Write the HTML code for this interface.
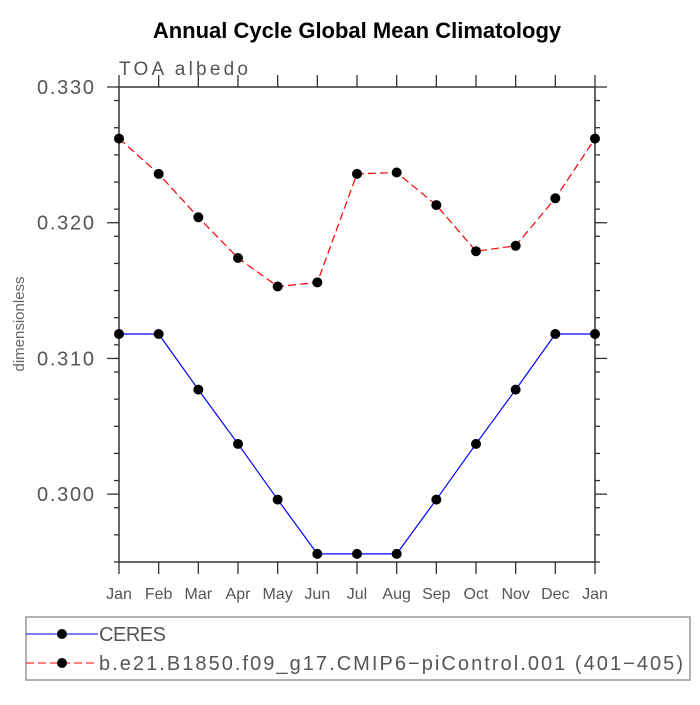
<!DOCTYPE html>
<html><head><meta charset="utf-8"><style>
body{margin:0;background:#fff}
svg text{font-family:"Liberation Sans",sans-serif}
</style></head><body>
<svg id="c" width="700" height="700" xmlns="http://www.w3.org/2000/svg">
<text x="357" y="38" text-anchor="middle" font-size="22" font-weight="bold">Annual Cycle Global Mean Climatology</text>
<text x="119" y="75" font-size="19" fill="#555" textLength="129">TOA albedo</text>
<text transform="translate(24,324) rotate(-90)" text-anchor="middle" font-size="15" fill="#666">dimensionless</text>
<g id="ax"></g><g id="series"></g>
<rect x="26" y="617" width="664" height="63" fill="none" stroke="#999" stroke-width="1.5"/>
<g>
<line x1="26" y1="634" x2="98" y2="634" stroke="#00f" stroke-width="1"/><circle cx="62" cy="634" r="5" fill="#000"/>
<text x="99" y="641" font-size="20" fill="#555" textLength="67">CERES</text></g>
<g>
<line x1="26" y1="663" x2="98" y2="663" stroke="#f00" stroke-dasharray="8,4"/><circle cx="62" cy="663" r="5" fill="#000"/>
<text x="99" y="670" font-size="20" fill="#555" textLength="584">b.e21.B1850.f09_g17.CMIP6−piControl.001 (401−405)</text></g>
</svg>
<script>
const months=["Jan","Feb","Mar","Apr","May","Jun","Jul","Aug","Sep","Oct","Nov","Dec","Jan"];
const ceres=[0.3118,0.3118,0.3077,0.3037,0.2996,0.2956,0.2956,0.2956,0.2996,0.3037,0.3077,0.3118,0.3118];
const model=[0.3262,0.3236,0.3204,0.3174,0.3153,0.3156,0.3236,0.3237,0.3213,0.3179,0.3183,0.3218,0.3262];
const yTicks=["0.300","0.310","0.320","0.330"];
const X0=119,X1=595,Y0=87,Y1=562,ymin=0.295,ymax=0.330;
const sx=i=>X0+(X1-X0)*i/(months.length-1);
const sy=v=>Y1-(v-ymin)/(ymax-ymin)*(Y1-Y0);
const NS="http://www.w3.org/2000/svg";
function mk(t,a,p){const e=document.createElementNS(NS,t);for(const k in a)e.setAttribute(k,a[k]);p.appendChild(e);return e;}
const ax=document.getElementById('ax');
let f=mk('rect',{x:X0,y:Y0,width:X1-X0,height:Y1-Y0,fill:'none',stroke:'#333','stroke-width':1.5},ax);


months.forEach((m,i)=>{const x=sx(i);
mk('line',{x1:x,y1:Y1,x2:x,y2:Y1+12,stroke:'#333','stroke-width':1.3},ax);
mk('line',{x1:x,y1:Y0,x2:x,y2:Y0-12,stroke:'#333','stroke-width':1.3},ax);
const t=mk('text',{x:x,y:Y1+37,'text-anchor':'middle','font-size':16,fill:'#555'},ax);t.textContent=m;

});
for(let k=0;k<=17;k++){const v=ymin+k*0.002;if(v>ymax+1e-9)break;const y=sy(v);
mk('line',{x1:X0,y1:y,x2:X0-5,y2:y,stroke:'#333','stroke-width':1.3},ax);
mk('line',{x1:X1,y1:y,x2:X1+5,y2:y,stroke:'#333','stroke-width':1.3},ax);}
yTicks.forEach(s=>{const y=sy(parseFloat(s));
mk('line',{x1:X0,y1:y,x2:X0-12,y2:y,stroke:'#333','stroke-width':1.3},ax);
mk('line',{x1:X1,y1:y,x2:X1+12,y2:y,stroke:'#333','stroke-width':1.3},ax);
const t=mk('text',{x:37,y:y+7,'font-size':20,fill:'#555',textLength:57},ax);t.textContent=s;

});
const sg=document.getElementById('series');
function draw(vals,col,dash,name){const g=mk('g',{},sg);


mk('polyline',{points:vals.map((v,i)=>sx(i)+','+sy(v)).join(' '),fill:'none',stroke:col,'stroke-width':1.2,'stroke-dasharray':dash},g);
vals.forEach((v,i)=>{const c=mk('circle',{cx:sx(i),cy:sy(v),r:5,fill:'#000'},g);

});}
draw(ceres,'#00f','none','ceres-series');
draw(model,'#f00','8,4','model-series');
</script>
</body></html>
